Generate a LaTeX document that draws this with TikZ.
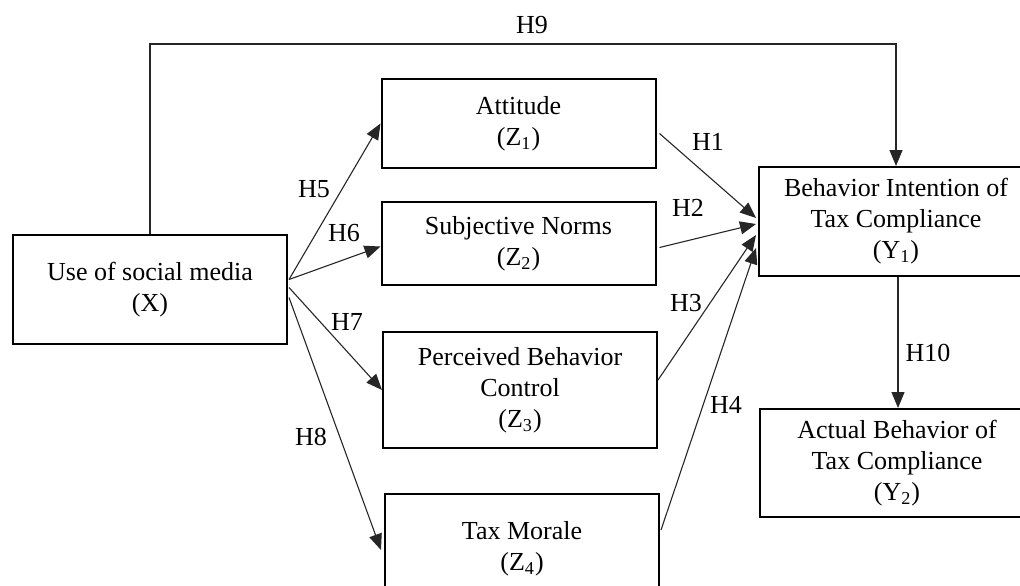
\documentclass[tikz,border=0pt]{standalone}
\usepackage{fontspec}
\setmainfont{Liberation Serif}
\usepackage{tikz}
\usetikzlibrary{arrows.meta,calc}

\begin{document}
\begin{tikzpicture}[x=0.5pt, y=-0.5pt,
  every node/.style={font=\fontsize{13}{15.5}\selectfont},
  box/.style={draw, line width=1pt, minimum width=137pt, align=center, inner sep=0pt},
  link/.style={-{Triangle[length=8pt,width=6.5pt]}, line width=0.55pt, black!85}]

\useasboundingbox (0,0) rectangle (1020,585);
\clip (0,0) rectangle (1020,585);

% the boxes
\node[box, minimum height=54.5pt] (X) at (150,289.5) {Use of social media\\(X)};
\node[box, minimum height=44.5pt] (Z1) at (518.5,123.5) {Attitude\\(Z\textsubscript{1})};
\node[box, minimum height=41.5pt] (Z2) at (518.5,243.5) {Subjective Norms\\(Z\textsubscript{2})};
\node[box, minimum height=58pt] (Z3) at (520,390) {Perceived Behavior\\Control\\(Z\textsubscript{3})};
\node[box, minimum height=55pt] (Z4) at (522,549) {Tax Morale\\(Z\textsubscript{4})};
\node[box, minimum height=54.5pt] (Y1) at (896,221.5) {Behavior Intention of\\Tax Compliance\\(Y\textsubscript{1})};
\node[box, minimum height=54pt] (Y2) at (897,463) {Actual Behavior of\\Tax Compliance\\(Y\textsubscript{2})};

% social media to the Z boxes
\draw[link] ($(X.east)+(1,-10)$) -- (Z1.west);
\draw[link] ($(X.east)+(1,-10)$) -- ($(Z2.west)+(0,3)$);
\draw[link] ($(X.east)+(1,-2)$) -- (Z3.west);
\draw[link] ($(X.east)+(1,8)$) -- ($(Z4.west)+(-3,1)$);

% Z boxes to intention
\draw[link] ($(Z1.east)+(3,10)$) -- ($(Y1.west)+(-2,-3.5)$);
\draw[link] ($(Z2.east)+(3,4)$) -- ($(Y1.west)+(-2,2.5)$);
\draw[link] ($(Z3.east)+(0,-10)$) -- ($(Y1.west)+(-2,13.5)$);
\draw[link] ($(Z4.east)+(1,-19)$) -- ($(Y1.west)+(-2,26.5)$);

% direct path and intention to behavior
\draw[link] (X.north) |- ($(Y1.north)+(0,-122)$) -- (Y1.north);
\draw[link] ($(Y1.south)+(2,0)$) -- ($(Y2.north)+(1,0)$);

% hypothesis labels
\node (h1) at (708,142) {H1};
\node (h2) at (688,208) {H2};
\node (h3) at (686,303) {H3};
\node (h4) at (726,405) {H4};
\node (h5) at (314,189) {H5};
\node (h6) at (344,233) {H6};
\node (h7) at (347,322) {H7};
\node (h8) at (311,437) {H8};
\node (h9) at (532,25) {H9};
\node (h10) at (928,353) {H10};

\end{tikzpicture}
\end{document}
